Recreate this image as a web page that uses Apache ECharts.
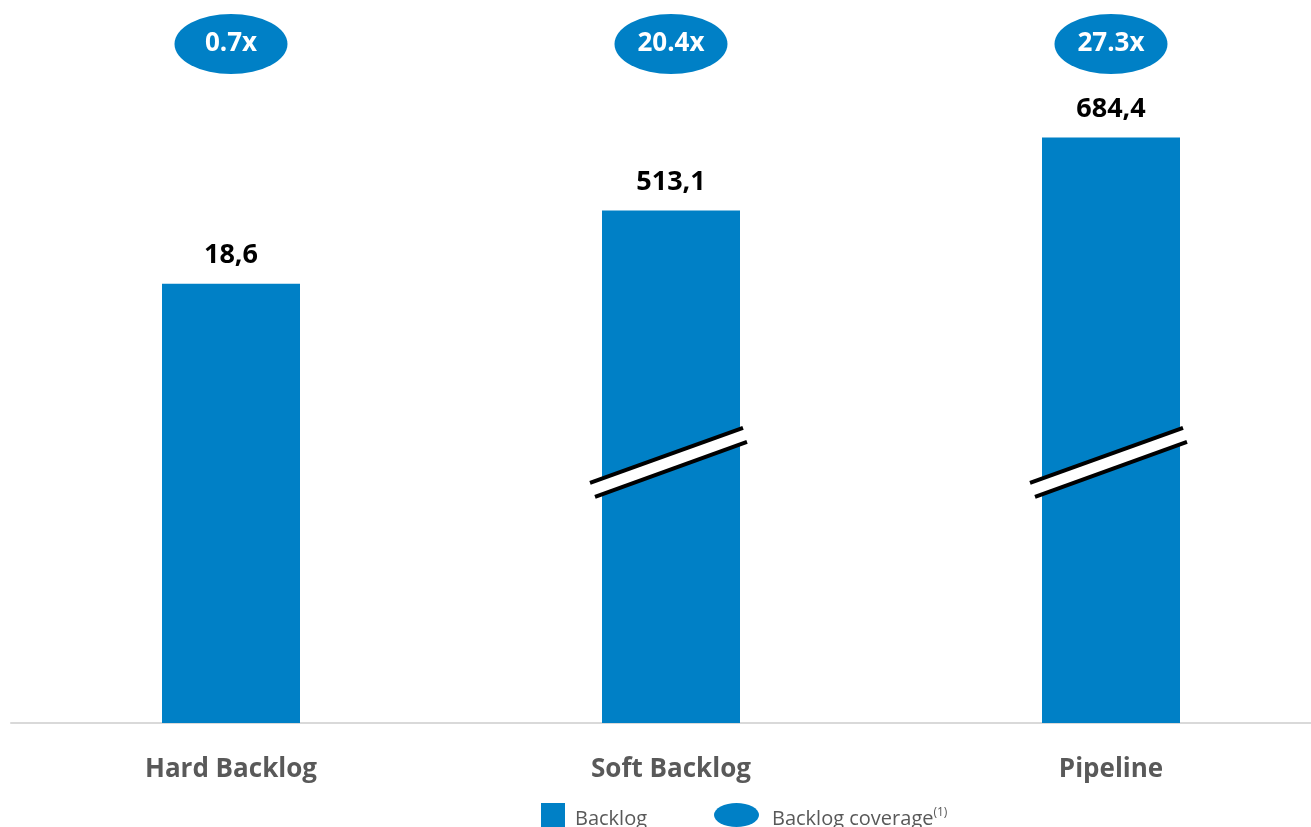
<!DOCTYPE html>
<html>
<head>
<meta charset="utf-8">
<script src="https://cdn.jsdelivr.net/npm/echarts@6/dist/echarts.min.js"></script>
<style>
html,body{margin:0;padding:0;background:#fff;}
#chart{width:1311px;height:827px;}
</style>
</head>
<body>
<div id="chart"></div>
<script>
// ---- data ----
const categories = ['Hard Backlog', 'Soft Backlog', 'Pipeline'];
const backlogValues = [18.6, 513.1, 684.4];          // labelled values
const drawnHeights = [60, 70, 80];                   // schematic (broken-axis) bar heights as drawn
const coverageValues = [0.7, 20.4, 27.3];            // backlog coverage (x)
const brokenBars = [1, 2];                           // bars that carry an axis-break mark
const breakLevel = 35.6;                             // height of the break mark on the drawn scale

const BLUE = '#0080C6';
const FONT = 'Open Sans';
const ellipsePath = 'path://M0,30 A56.5,30 0 1,0 113,30 A56.5,30 0 1,0 0,30 Z';

const chart = echarts.init(document.getElementById('chart'), null, {renderer: 'canvas'});

const legendRich = {
  a: {fontFamily: FONT, fontSize: 20, color: '#595959'},
  s: {fontFamily: FONT, fontSize: 12, color: '#595959', padding: [0, 0, 12, 0]}
};

const option = {
  animation: false,
  backgroundColor: '#ffffff',
  grid: [
    {left: 11, width: 1320, top: 64.2, bottom: 104, outerBoundsMode: 'none', containLabel: false},
    {left: 11, width: 1320, top: 14, height: 60, outerBoundsMode: 'none', containLabel: false}
  ],
  xAxis: [
    {
      type: 'category', gridIndex: 0, data: categories,
      axisTick: {show: false},
      axisLine: {show: true, lineStyle: {color: '#D9D9D9', width: 2}},
      axisLabel: {
        margin: 34, color: '#595959', fontFamily: FONT, fontWeight: 'bold', fontSize: 26
      }
    },
    {
      type: 'category', gridIndex: 1, data: categories,
      show: false
    }
  ],
  yAxis: [
    {type: 'value', gridIndex: 0, min: 0, max: 90, show: false, splitLine: {show: false}},
    {type: 'value', gridIndex: 1, min: -1, max: 1, show: false, splitLine: {show: false}}
  ],
  legend: [
    {
      left: 541, top: 803, padding: 0, itemWidth: 24, itemHeight: 24, itemGap: 0,
      data: [{name: 'Backlog', icon: 'rect'}],
      formatter: function (n) { return '{a|' + n + '}'; },
      textStyle: {fontFamily: FONT, fontSize: 20, color: '#595959', padding: [8, 0, 0, 5], rich: legendRich},
      selectedMode: false
    },
    {
      left: 714, top: 803, padding: 0, itemWidth: 45, itemHeight: 24, itemGap: 0,
      data: [{name: 'Backlog coverage', icon: ellipsePath}],
      formatter: function (n) { return '{a|' + n + '}{s|(1)}'; },
      textStyle: {fontFamily: FONT, fontSize: 20, color: '#595959', padding: [8, 0, 0, 8], rich: legendRich},
      selectedMode: false
    }
  ],
  series: [
    {
      name: 'Backlog',
      type: 'bar',
      xAxisIndex: 0, yAxisIndex: 0,
      data: drawnHeights,
      barWidth: 138,
      itemStyle: {color: BLUE},
      label: {
        show: true, position: 'top', distance: 15,
        fontFamily: FONT, fontWeight: 'bold', fontSize: 27, color: '#000000',
        formatter: function (p) { return backlogValues[p.dataIndex].toFixed(1).replace('.', ','); }
      },
      z: 2
    },
    {
      name: 'Break',
      type: 'custom',
      xAxisIndex: 0, yAxisIndex: 0,
      data: brokenBars.map(function (i) { return [i, breakLevel]; }),
      encode: {x: 0, y: 1},
      z: 5,
      silent: true,
      renderItem: function (params, api) {
        const c = api.coord([api.value(0), api.value(1)]);
        const cx = c[0], cy = c[1];
        const hs = 27.5, g = 7;
        const t0 = [cx - 81, cy + hs - g], t1 = [cx + 72, cy - hs - g];
        const b0 = [cx - 76, cy + hs + g], b1 = [cx + 76, cy - hs + g];
        return {
          type: 'group',
          children: [
            {
              type: 'polygon',
              shape: {points: [t0, t1, [t1[0] + 4, t1[1] + 2 * g], b1, b0, [b0[0] - 4, b0[1] - 2 * g]]},
              style: {fill: '#ffffff', stroke: null}
            },
            {
              type: 'line',
              shape: {x1: t0[0], y1: t0[1], x2: t1[0], y2: t1[1]},
              style: {stroke: '#000000', lineWidth: 4}
            },
            {
              type: 'line',
              shape: {x1: b0[0], y1: b0[1], x2: b1[0], y2: b1[1]},
              style: {stroke: '#000000', lineWidth: 4}
            }
          ]
        };
      }
    },
    {
      name: 'Backlog coverage',
      type: 'scatter',
      xAxisIndex: 1, yAxisIndex: 1,
      data: coverageValues.map(function (v, i) { return [i, 0]; }),
      symbol: ellipsePath,
      symbolSize: [113, 60],
      symbolKeepAspect: false,
      itemStyle: {color: BLUE, opacity: 1},
      label: {
        show: true, position: 'inside',
        fontFamily: FONT, fontWeight: 'bold', fontSize: 26, color: '#ffffff',
        formatter: function (p) { return coverageValues[p.dataIndex].toFixed(1) + 'x'; }
      }
    }
  ]
};

chart.setOption(option);
</script>
</body>
</html>
